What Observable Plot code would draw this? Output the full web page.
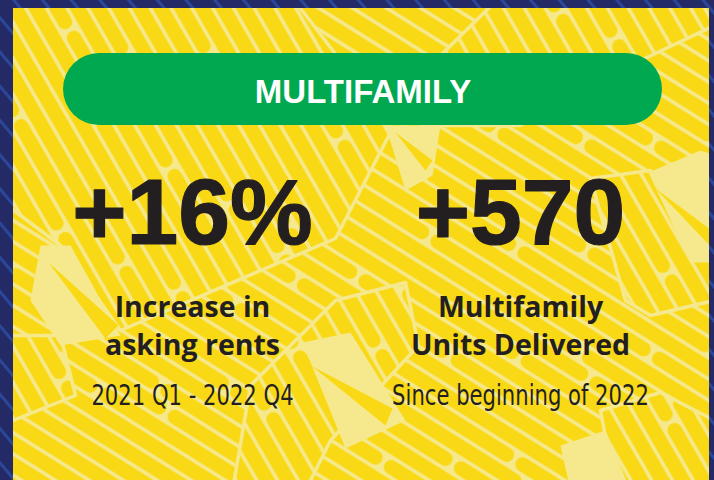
<!DOCTYPE html>
<html><head><meta charset="utf-8">
<script src="https://cdn.jsdelivr.net/npm/d3@7"></script>
<script src="https://cdn.jsdelivr.net/npm/@observablehq/plot@0.6"></script>
<style>html,body{margin:0;padding:0;background:#242a66;overflow:hidden}</style>
</head><body><div id="chart"></div>
<script>
// ---- content ----
const heading = ["MULTIFAMILY"];
const stats = ["+16%", "+570"];
const labelLine1 = ["Increase in", "Multifamily"];
const labelLine2 = ["asking rents", "Units Delivered"];
const periods = ["2021 Q1 - 2022 Q4", "Since beginning of 2022"];

// ---- layout (pixels) ----
const W = 714, H = 480;
const colX = [192, 520];
const panel = [{x1: 13, x2: 709, y1: 8, y2: 520}];
const frame = [
  {x1: 0, x2: W, y1: 0, y2: 8},
  {x1: 0, x2: 13, y1: 0, y2: H},
  {x1: 709, x2: W, y1: 0, y2: H}
];
const pill = [{x1: 63, x2: 662, y1: 53, y2: 125}];
// decorative background regions (steep-striped blocks over shallow-striped base)
const steepBlocks = [
  [[0,0],[294,0],[392,128],[335,238],[120,330],[60,245],[0,200]],
  [[0,335],[60,335],[75,395],[0,425]],
  [[496,0],[700,0],[714,25],[640,60],[520,125],[420,125],[440,55]],
  [[590,178],[650,170],[714,268],[714,300],[650,315],[625,300]],
  [[335,300],[405,282],[418,345],[330,440],[305,490],[232,490],[250,385]],
  [[600,410],[660,392],[714,420],[714,490],[615,490]]
];
const lightAreas = [
  [[385,125],[440,125],[432,175],[405,190]],
  [[40,245],[70,245],[120,335],[60,345],[30,300]],
  [[302,342],[350,332],[405,420],[345,448]],
  [[648,172],[700,150],[714,155],[714,262],[690,262]],
  [[560,445],[605,430],[630,490],[570,490]]
];
const nStrokes = [
  [[48,262],[118,325],[105,338]],
  [[312,366],[392,408],[385,425]],
  [[655,188],[714,232],[714,250]],
  [[395,132],[432,160],[425,170]]
];

const ink = "#231f20";
const lightY = "#f6e98d", yellow = "#f9d915";
const poly = (pts, fill, stroke = "none") => Plot.line([...pts, pts[0]],
  {x: d => d[0], y: d => d[1], fill, stroke, strokeWidth: 3.5, strokeLinejoin: "round", curve: "linear"});
const svg = Plot.plot({
  width: W, height: H, margin: 0,
  x: {domain: [0, W], axis: null},
  y: {domain: [H, 0], axis: null},
  style: {background: "#242a66", overflow: "hidden"},
  marks: [
    Plot.rect(panel, {x1: "x1", x2: "x2", y1: "y1", y2: "y2", fill: "url(#shallow)"}),
    ...steepBlocks.map(p => poly(p, "url(#steep)", lightY)),
    ...lightAreas.map(p => poly(p, lightY)),
    ...nStrokes.map(p => poly(p, yellow)),
    Plot.rect(frame, {x1: "x1", x2: "x2", y1: "y1", y2: "y2", fill: "url(#navy)"}),
    Plot.rect(pill, {x1: "x1", x2: "x2", y1: "y1", y2: "y2", fill: "#00a84f", rx: 36}),
    Plot.text(heading, {x: () => (pill[0].x1 + pill[0].x2) / 2, y: 102, text: d => d, lineAnchor: "bottom",
      fill: "white", fontSize: 33, fontWeight: 700, fontFamily: "Liberation Sans, Arial, sans-serif"}),
    Plot.text(stats, {x: (d, i) => colX[i], y: 243, text: d => d, lineAnchor: "bottom",
      fill: ink, fontSize: 93, fontWeight: 700, fontFamily: "Liberation Sans, Arial, sans-serif",
      stroke: ink, strokeWidth: 1.2}),
    Plot.text(labelLine1, {x: (d, i) => colX[i], y: 316, text: d => d, lineAnchor: "bottom",
      fill: ink, fontSize: 28.5, fontWeight: 700, fontFamily: "Open Sans, sans-serif"}),
    Plot.text(labelLine2, {x: (d, i) => colX[i], y: 354, text: d => d, lineAnchor: "bottom",
      fill: ink, fontSize: 28.5, fontWeight: 700, fontFamily: "Open Sans, sans-serif"}),
    Plot.text(periods, {x: (d, i) => colX[i], y: 404, text: d => d, lineAnchor: "bottom", className: "period",
      fill: ink, fontSize: 29, fontWeight: 400, fontFamily: "DejaVu Sans Condensed, DejaVu Sans, sans-serif"})
  ]
});

// ---- decorative patterns ----
const defs = d3.select(svg).insert("defs", ":first-child");
function capsules(id, angle) {
  const offs = [0, 150, 60, 230, 110, 290, 20];
  const tw = 18 * offs.length, th = 340;
  const p = defs.append("pattern").attr("id", id).attr("patternUnits", "userSpaceOnUse")
    .attr("width", tw).attr("height", th).attr("patternTransform", `rotate(${angle})`);
  p.append("rect").attr("width", tw).attr("height", th).attr("fill", lightY);
  offs.forEach((off, c) => {
    [off, off - th].forEach(y0 => {
      p.append("rect").attr("x", c * 18 + 1.8).attr("y", y0 + 2).attr("width", 14.4).attr("height", th - 4)
        .attr("rx", 7.2).attr("fill", yellow);
    });
  });
}
capsules("shallow", -58);
capsules("steep", -30);
const nv = defs.append("pattern").attr("id", "navy").attr("patternUnits", "userSpaceOnUse")
  .attr("width", 22).attr("height", 22).attr("patternTransform", "rotate(-40)");
nv.append("rect").attr("width", 22).attr("height", 22).attr("fill", "#242a66");
nv.append("rect").attr("x", 9).attr("width", 3).attr("height", 22).attr("fill", "#2b479a");

document.getElementById("chart").appendChild(svg);
// condensed look for the period lines
d3.select(svg).selectAll(".period text").each(function() {
  const len = this.getComputedTextLength();
  d3.select(this).attr("textLength", len * 0.81).attr("lengthAdjust", "spacingAndGlyphs");
});
</script>
</body></html>
